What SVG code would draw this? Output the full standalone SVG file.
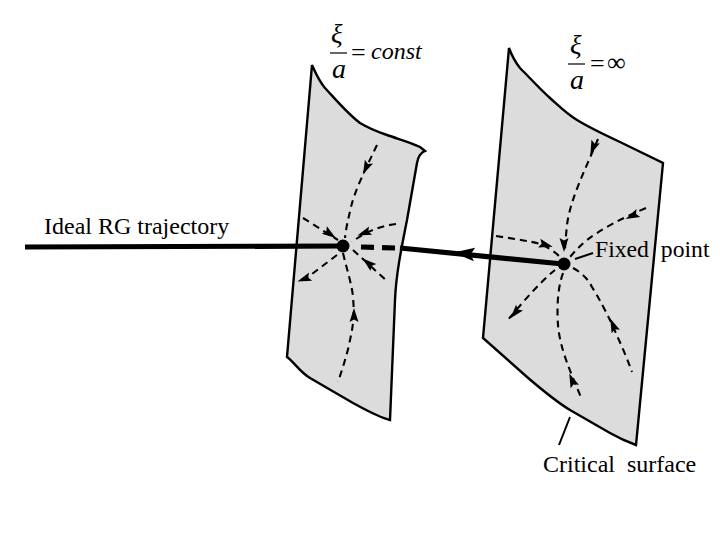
<svg xmlns="http://www.w3.org/2000/svg" width="720" height="540" viewBox="0 0 720 540">
<style>
.sheet{fill:#dcdcdc;stroke:#000;stroke-width:2.4;stroke-linejoin:miter}
.flow{fill:none;stroke:#000;stroke-width:2.1;stroke-dasharray:7 5}
.thick{fill:none;stroke:#000;stroke-width:5.2}
.thin{fill:none;stroke:#000;stroke-width:2}
text{font-family:"Liberation Serif","Times New Roman",serif;fill:#000}
.lab{font-size:24px}
.it{font-style:italic}
</style>
<defs>
<polygon id="ah" points="7,0 -7,-4.500 -4.500,0 -7,4.500" fill="#000"/>
</defs>
<rect width="720" height="540" fill="#fff"/>
<g id="surface-const">
<path class="sheet" d="M312,65 C316,74 319,81 325,88 C338,102 348,114 360,123 C370,129 378,132 387,135 C398,139 410,142 420,147 L425,151 C420,153 418,157 417,163 L407,220 C401,250 396,275 395,300 L390,420 C378,417 366,410 353,403 L310,378 C300,372 294,362 287,357 Z"/>
</g>
<g id="surface-infinite">
<path class="sheet" d="M509,48 C512,56 515,62 520,68 C530,78 540,89 550,98 C559,106 567,114 577,120 C590,128 605,135 620,142 L663,163 L636,445 C625,441 617,437 610,433 L570,410 C555,401 541,389 527,377 L483,338 Z"/>
</g>
<g id="connectors">
<path class="thick" d="M25,247 L343,246"/>
<path class="thick" d="M361,247 L395,248" stroke-dasharray="13 8"/>
<path class="thick" d="M400,248 L563,264"/>
<use href="#ah" transform="translate(464,253.500) rotate(185.500) scale(1.500)"/>

<path class="flow" d="M377,145 C366,168 355,190 351,207 C348,220 346,228 345,238"/>
<path class="flow" d="M303,218 L338,240"/>
<path class="flow" d="M396,224 C380,226 365,232 352,242"/>
<path class="flow" d="M337,255 L312,274 C306,278 302,280 298,281"/>
<path class="flow" d="M353,250 L388,282"/>
<path class="flow" d="M343,253 C347,270 352,285 353,297 C355,320 352,330 349,345 C346,358 342,370 338,382"/>
<use href="#ah" transform="translate(366,168) rotate(115)"/>
<use href="#ah" transform="translate(330,234) rotate(35)"/>
<use href="#ah" transform="translate(364,233) rotate(160)"/>
<use href="#ah" transform="translate(304,279) rotate(160)"/>
<use href="#ah" transform="translate(368,263) rotate(220)"/>
<use href="#ah" transform="translate(354,315) rotate(-90)"/>

<path class="flow" d="M598,139 C585,170 570,200 567,225 C566,235 565,245 565,253"/>
<path class="flow" d="M646,208 C620,219 600,230 587,240 C580,246 575,251 570,257"/>
<path class="flow" d="M496,236 C515,239 530,241 540,244 C548,247 555,252 560,257"/>
<path class="flow" d="M555,270 C540,282 522,303 507,321"/>
<path class="flow" d="M563,273 C557,290 557,310 558,325 C560,350 572,375 582,400"/>
<path class="flow" d="M573,268 C582,273 588,279 592,287 C600,300 606,312 611,322 C618,338 626,355 632,372"/>
<use href="#ah" transform="translate(593,148) rotate(112)"/>
<use href="#ah" transform="translate(564,245) rotate(90)"/>
<use href="#ah" transform="translate(632,216) rotate(155)"/>
<use href="#ah" transform="translate(546,245) rotate(15)"/>
<use href="#ah" transform="translate(515,313) rotate(130)"/>
<use href="#ah" transform="translate(572,380) rotate(-113)"/>
<use href="#ah" transform="translate(613,325) rotate(-113)"/>

<path class="thin" d="M575,259 L593,253"/>
<path class="thin" d="M570,417 L559,445"/>
</g>
<g id="fixed-point-const"><circle cx="343" cy="246" r="6.500" fill="#000"/></g>
<g id="fixed-point-infinite"><circle cx="564" cy="264" r="6.500" fill="#000"/></g>
<g id="label-trajectory"><text class="lab" x="44" y="234">Ideal RG trajectory</text></g>
<g id="label-fixed"><text x="595" y="257" font-size="23.700" xml:space="preserve" style="white-space:pre">Fixed  point</text></g>
<g id="label-critical"><text class="lab" x="543" y="472" xml:space="preserve" style="white-space:pre">Critical  surface</text></g>
<g id="formula-const">
<text class="it" x="331" y="43" font-size="27">ξ</text>
<path d="M330,53 H347" stroke="#000" stroke-width="1.2"/>
<text class="it" x="332" y="78" font-size="28">a</text>
<text x="351" y="61" font-size="26">=</text>
<text class="it" x="371" y="59" font-size="24">const</text>
</g>
<g id="formula-infinite">
<text class="it" x="570" y="54" font-size="27">ξ</text>
<path d="M568,64 H585" stroke="#000" stroke-width="1.2"/>
<text class="it" x="570" y="89" font-size="28">a</text>
<text x="590" y="72" font-size="26">=</text>
<text x="607" y="71" font-size="26">∞</text>
</g>
</svg>
